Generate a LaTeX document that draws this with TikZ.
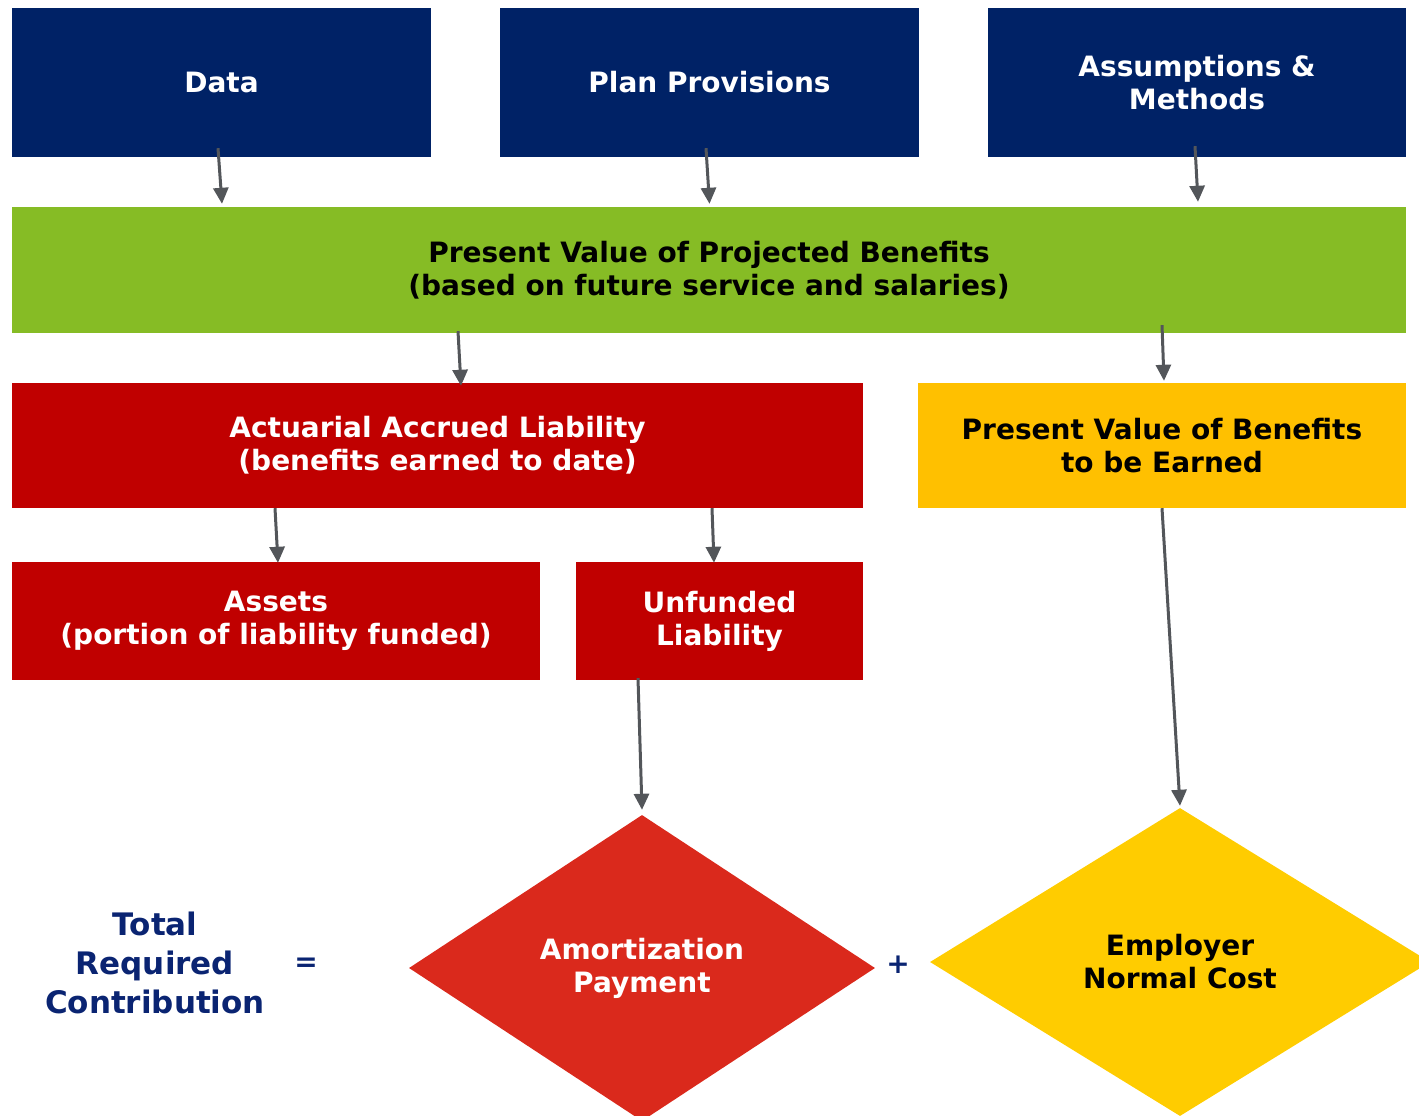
\documentclass[tikz,border=0pt]{standalone}
\usepackage{xcolor}
\usepackage{fontspec}
\setmainfont{DejaVu Sans}
\usepackage{tikz}
\usetikzlibrary{positioning,arrows.meta}
\usetikzlibrary{shapes.geometric}
\definecolor{navyblue}{HTML}{002266}
\definecolor{leafgreen}{HTML}{86BC25}
\definecolor{darkred}{HTML}{C00000}
\definecolor{amber}{HTML}{FFC000}
\definecolor{brightred}{HTML}{DA291C}
\definecolor{gold}{HTML}{FFCC00}
\definecolor{titleblue}{HTML}{0A2472}
\definecolor{arrowgray}{HTML}{53565A}
\tikzset{
  flownode/.style = {align=center, inner sep=0pt, text centered,
    font=\fontsize{28}{33}\selectfont\bfseries},
  box_n/.style = {flownode, rectangle, fill=navyblue, text=white},% input boxes
  box_g/.style = {flownode, rectangle, fill=leafgreen, text=black},
  box_r/.style = {flownode, rectangle, fill=darkred, text=white},
  box_y/.style = {flownode, rectangle, fill=amber, text=black},
  dia_r/.style = {flownode, diamond, fill=brightred, text=white,
    minimum width=466pt, minimum height=306pt},
  dia_y/.style = {flownode, diamond, fill=gold, text=black,
    minimum width=500pt, minimum height=308pt},
  conn/.style = {draw=arrowgray, line width=3pt,
    -{Triangle[length=16pt,width=15pt]}}
}

\begin{document}
\begin{tikzpicture}[x=1pt,y=-1pt]
\useasboundingbox (0,0) rectangle (1419,1116);
% inputs
\node [box_n, minimum width=419pt, minimum height=149pt] (data) at (221.5,82.5) {Data};
\node [box_n, minimum width=419pt, minimum height=149pt] (plan) at (709.5,82.5) {Plan Provisions};
\node [box_n, minimum width=418pt, minimum height=149pt] (assum) at (1197,82.5) {Assumptions \&\\Methods};
\node [box_g, minimum width=1394pt, minimum height=126pt] (pvpb) at (709,270)
  {Present Value of Projected Benefits\\(based on future service and salaries)};
% liabilities
\node [box_r, minimum width=851pt, minimum height=125pt] (aal) at (437.5,445.5)
  {Actuarial Accrued Liability\\(benefits earned to date)};
\node [box_y, minimum width=488pt, minimum height=125pt] (pvfb) at (1162,445.5)
  {Present Value of Benefits\\to be Earned};
\node [box_r, minimum width=528pt, minimum height=118pt] (assets) at (276,621)
  {Assets\\(portion of liability funded)};
\node [box_r, minimum width=287pt, minimum height=118pt] (ual) at (719.5,621)
  {Unfunded\\Liability};
% contribution
\node [dia_r] (amort) at (642,968) {Amortization\\Payment};
\node [dia_y] (nc) at (1180,962) {Employer\\Normal Cost};
\node [flownode, text=titleblue, font=\fontsize{31}{39}\selectfont\bfseries] (total) at (155,963)
  {Total\\Required\\Contribution};
\node [flownode, text=titleblue] (eq) at (306,965) {=};
\node [flownode, text=titleblue] (plus) at (898,965) {+};
% arrows
\draw [conn] ([xshift=-3.5pt,yshift=9pt]data.south) -- ([xshift=0.5pt,yshift=3pt]data.south |- pvpb.north);
\draw [conn] ([xshift=-3.5pt,yshift=9pt]plan.south) -- ([yshift=3pt]plan.south |- pvpb.north);
\draw [conn] ([xshift=-2pt,yshift=11pt]assum.south) -- ([xshift=1pt,yshift=5pt]assum.south |- pvpb.north);
\draw [conn] ([xshift=-251pt,yshift=2pt]pvpb.south) -- ([xshift=23.5pt,yshift=-3pt]aal.north);
\draw [conn] ([xshift=453pt,yshift=8pt]pvpb.south) -- ([xshift=2pt,yshift=2pt]pvfb.north);
\draw [conn] ([xshift=-162.5pt]aal.south) -- ([xshift=2pt,yshift=-1pt]assets.north);
\draw [conn] ([xshift=274.5pt]aal.south) -- ([xshift=-5.5pt,yshift=-1pt]ual.north);
\draw [conn] ([xshift=-81.5pt,yshift=2pt]ual.south) -- ([yshift=5pt]amort.north);
\draw [conn] (pvfb.south) -- ([yshift=2pt]nc.north);
\end{tikzpicture}
\end{document}
